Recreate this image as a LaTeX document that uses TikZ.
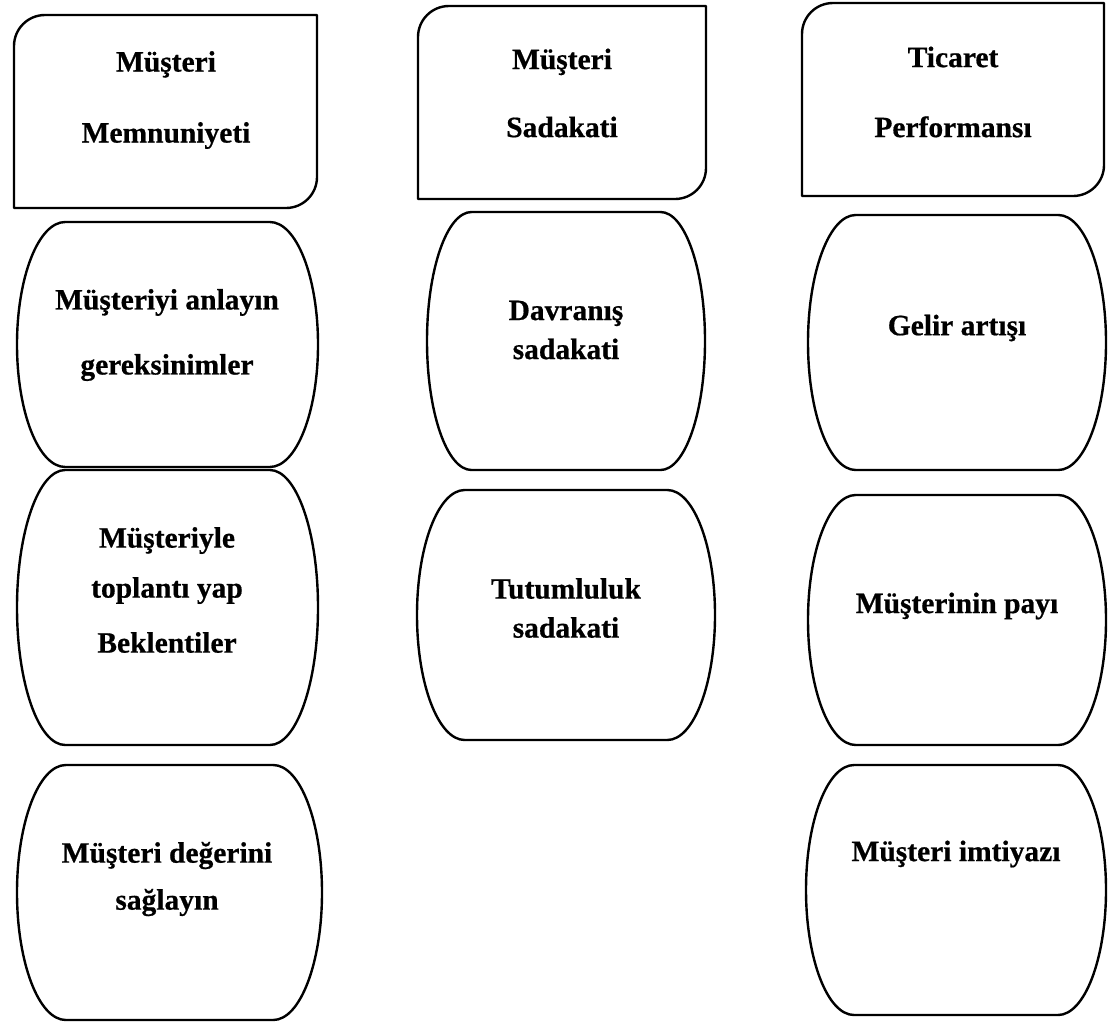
\documentclass[tikz,border=0pt]{standalone}
\usepackage{fontspec}
\setmainfont{Liberation Serif}[BoldFeatures={FakeBold=0.6}]
\begin{document}
\begin{tikzpicture}[x=1pt,y=1pt,
  outline/.style={draw=black,line width=2.4pt,line join=round},
  lbl/.style={font=\bfseries\fontsize{29.5pt}{38pt}\selectfont,align=center,inner sep=0pt}]
\useasboundingbox (0,0) rectangle (1110,-1023);
\fill[white] (0,0) rectangle (1110,-1023);

% header box: rounded top-left and bottom-right corners
% #1 x-left, #2 y-top, #3 x-right, #4 y-bottom (screen pixels)
\newcommand\headbox[4]{%
  \draw[outline] (#1,-#4) -- (#1,-#2-31) arc[start angle=180,end angle=90,radius=31]
    -- (#3,-#2) -- (#3,-#4+31) arc[start angle=0,end angle=-90,radius=31] -- cycle;}
% barrel box: flat top and bottom, half-elliptic sides
\newcommand\barrelbox[4]{%
  \pgfmathsetmacro\brx{0.16*(#3-#1)}%
  \pgfmathsetmacro\bry{0.5*(#4-#2)}%
  \draw[outline] (#1+\brx,-#2) -- (#3-\brx,-#2)
    arc[start angle=90,end angle=-90,x radius=\brx,y radius=\bry]
    -- (#1+\brx,-#4)
    arc[start angle=270,end angle=90,x radius=\brx,y radius=\bry] -- cycle;}

% column 1
\headbox{14}{15}{317}{208}
\node[lbl] (h1) at (166,-100) {Müşteri\\[33pt]Memnuniyeti};
\barrelbox{17}{222}{318}{467}
\node[lbl] (a1) at (167,-335) {Müşteriyi anlayın\\[27pt]gereksinimler};
\barrelbox{17}{470}{318}{745}
\node[lbl] (a2) at (167,-590) {Müşteriyle\\[12pt]toplantı yap\\[17pt]Beklentiler};
\barrelbox{17}{765}{322}{1020}
\node[lbl] (a3) at (167,-879) {Müşteri değerini\\[9pt]sağlayın};

% column 2
\headbox{418}{6}{706}{199}
\node[lbl] (h2) at (562,-93) {Müşteri\\[30pt]Sadakati};
\barrelbox{427}{212}{705}{470}
\node[lbl] (b1) at (566,-330) {Davranış\\[1pt]sadakati};
\barrelbox{417}{490}{715}{740}
\node[lbl] (b2) at (566,-608) {Tutumluluk\\[1pt]sadakati};

% column 3
\headbox{802}{3}{1104}{196}
\node[lbl] (h3) at (953,-92) {Ticaret\\[32pt]Performansı};
\barrelbox{808}{215}{1106}{470}
\node[lbl] (c1) at (957,-328) {Gelir artışı};
\barrelbox{808}{495}{1106}{745}
\node[lbl] (c2) at (957,-606) {Müşterinin payı};
\barrelbox{806}{765}{1106}{1015}
\node[lbl] (c3) at (956,-854) {Müşteri imtiyazı};
\end{tikzpicture}
\end{document}
